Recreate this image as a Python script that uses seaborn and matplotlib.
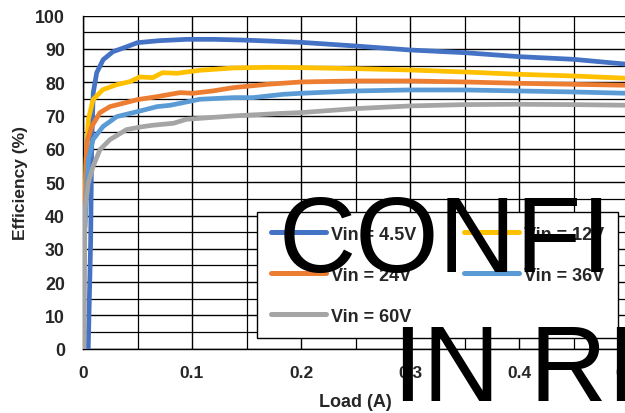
import numpy as np
import pandas as pd
import matplotlib
matplotlib.use("Agg")
import matplotlib.pyplot as plt
import seaborn as sns
from matplotlib.ticker import MultipleLocator, FuncFormatter

# ---- data ----
series_names = ["Vin = 4.5V", "Vin = 12V", "Vin = 24V", "Vin = 36V", "Vin = 60V"]
colors = ["#4472C4", "#FFC000", "#ED7D31", "#5B9BD5", "#A5A5A5"]

load_45 = [0.0048, 0.0070, 0.0080, 0.0094, 0.0126, 0.0185, 0.0275, 0.037, 0.05, 0.07, 0.095, 0.12,
           0.145, 0.17, 0.2, 0.25, 0.3, 0.35, 0.4, 0.45, 0.5]
eff_45 = [0, 31.8, 61.9, 76.9, 82.9, 86.8, 89.2, 90.3, 91.9, 92.5, 92.9, 92.9,
          92.7, 92.4, 92.0, 90.9, 89.7, 88.9, 87.7, 86.9, 85.4]

load_12 = [0.0003, 0.0028, 0.0049, 0.0092, 0.0183, 0.031, 0.043, 0.052, 0.064, 0.073, 0.086, 0.107,
           0.138, 0.17, 0.2, 0.25, 0.3, 0.35, 0.4, 0.45, 0.5]
eff_12 = [25.8, 56.8, 68.8, 74.8, 77.8, 79.3, 80.2, 81.6, 81.4, 82.9, 82.7, 83.6,
          84.3, 84.5, 84.4, 84.1, 83.7, 83.1, 82.4, 81.9, 81.2]

load_24 = [0.001, 0.0034, 0.008, 0.0156, 0.0248, 0.05, 0.068, 0.089, 0.101, 0.119, 0.138, 0.169,
           0.2, 0.25, 0.3, 0.35, 0.4, 0.45, 0.5]
eff_24 = [26.7, 61.9, 66.7, 70.9, 72.7, 74.8, 75.7, 76.9, 76.7, 77.4, 78.4, 79.4,
          80.1, 80.4, 80.4, 80.1, 79.7, 79.4, 79.1]

load_36 = [0.0018, 0.0049, 0.0092, 0.0183, 0.031, 0.05, 0.068, 0.08, 0.107, 0.138, 0.156, 0.184,
           0.2, 0.25, 0.3, 0.35, 0.4, 0.45, 0.5]
eff_36 = [36.6, 56.8, 62.8, 66.7, 69.7, 71.2, 72.7, 73.1, 74.9, 75.4, 75.4, 76.4,
          76.7, 77.4, 77.7, 77.7, 77.4, 77.1, 76.7]

load_60 = [0.001, 0.0018, 0.0049, 0.0092, 0.0156, 0.0248, 0.04, 0.055, 0.064, 0.083, 0.095, 0.138,
           0.184, 0.2, 0.25, 0.3, 0.35, 0.4, 0.45, 0.5]
eff_60 = [0, 41.7, 49.8, 54.7, 59.8, 62.8, 65.8, 66.7, 67.1, 67.7, 68.9, 69.9,
          70.7, 70.9, 72.1, 72.9, 73.3, 73.4, 73.3, 73.1]

x_ticks = [0, 0.1, 0.2, 0.3, 0.4, 0.5]
y_ticks = [0, 10, 20, 30, 40, 50, 60, 70, 80, 90, 100]
x_label = "Load (A)"
y_label = "Efficiency (%)"
watermark_1 = "CONFI"
watermark_2 = "IN RI"

loads = [load_45, load_12, load_24, load_36, load_60]
effs = [eff_45, eff_12, eff_24, eff_36, eff_60]
df = pd.concat([pd.DataFrame({"Load": l, "Eff": e, "Vin": n})
                for l, e, n in zip(loads, effs, series_names)], ignore_index=True)

# ---- plot ----
sns.set_theme(style="white")
plt.rcParams["font.family"] = ["Liberation Sans", "DejaVu Sans"]

W, H = 625, 414
fig = plt.figure(figsize=(W / 100, H / 100), dpi=100)
ax = fig.add_axes([83 / W, (H - 349.7) / H, 545 / W, 333 / H])

sns.lineplot(data=df, x="Load", y="Eff", hue="Vin", hue_order=series_names,
             palette=colors, estimator=None, sort=False, linewidth=3.4, ax=ax,
             solid_capstyle="round", solid_joinstyle="round", zorder=3)

ax.set_xlim(0, 0.5)
ax.set_ylim(0, 100)
ax.set_xticks(x_ticks)
ax.set_yticks(y_ticks)
ax.xaxis.set_minor_locator(MultipleLocator(0.05))
ax.yaxis.set_minor_locator(MultipleLocator(5))
ax.xaxis.set_major_formatter(FuncFormatter(lambda v, p: "0" if v == 0 else f"{v:g}"))
ax.grid(True, which="major", color="black", linewidth=1.0)
ax.grid(True, which="minor", color="black", linewidth=0.9)
ax.set_axisbelow(True)

for s in ["top", "right"]:
    ax.spines[s].set_visible(False)
for s in ["left", "bottom"]:
    ax.spines[s].set_color("black")
    ax.spines[s].set_linewidth(1.0)

ax.tick_params(axis="y", which="major", length=0, pad=13, labelsize=12.8)
ax.tick_params(axis="x", which="major", length=0, pad=11.5, labelsize=12.5)
ax.tick_params(which="minor", length=0)
for lab in ax.get_xticklabels() + ax.get_yticklabels():
    lab.set_fontweight("bold")

ax.set_xlabel(x_label, fontsize=13, fontweight="bold")
ax.set_ylabel(y_label, fontsize=12.5, fontweight="bold")
ax.xaxis.set_label_coords((355 - 83) / 545, -(394 - 349.7) / 333)
ax.yaxis.set_label_coords(-(83 - 28) / 545, 0.5)

handles, labels = ax.get_legend_handles_labels()
order = [0, 2, 4, 1, 3]  # fill row-wise like the reference
handles = [handles[i] for i in order]
labels = [labels[i] for i in order]
leg = ax.legend(handles, labels, ncol=2, loc="upper left", mode="expand",
                bbox_to_anchor=(257 / W, 1 - 335 / H, 361 / W, 122 / H),
                bbox_transform=fig.transFigure,
                borderaxespad=0, frameon=True, fancybox=False, framealpha=1, edgecolor="black",
                prop={"weight": "bold", "size": 13}, handlelength=3.05, handletextpad=0.28,
                columnspacing=2.3, labelspacing=1.33, borderpad=0.75)
leg.get_frame().set_linewidth(1.0)
leg.set_zorder(5)
for h in leg.get_lines():
    h.set_linewidth(3.6)
    h.set_solid_capstyle("round")

fig.text(279 / W, 1 - 272 / H, watermark_1, fontsize=77, color="black",
         ha="left", va="baseline", zorder=10)
fig.text(393 / W, 1 - 401 / H, watermark_2, fontsize=77, color="black",
         ha="left", va="baseline", zorder=10)

fig.savefig("out.png", dpi=100)
